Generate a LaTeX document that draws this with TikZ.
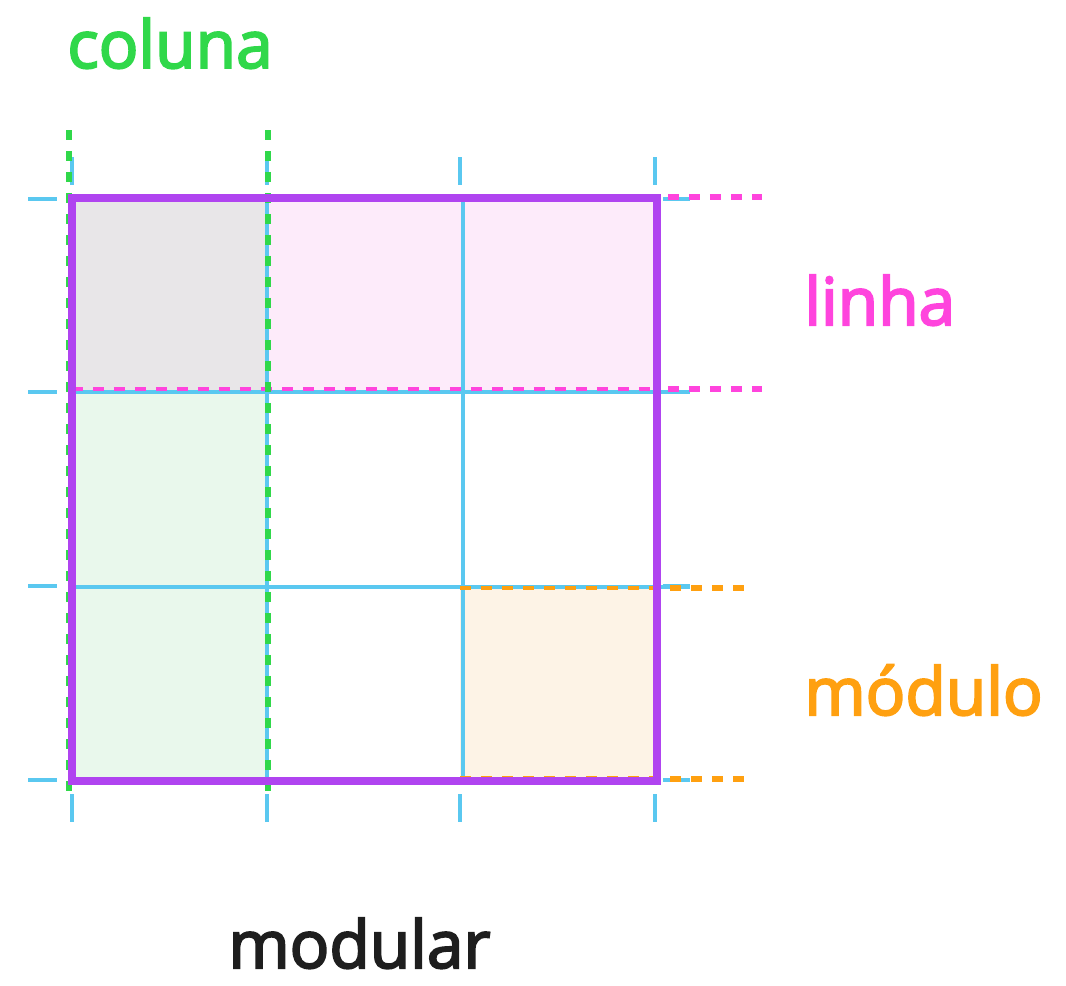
\documentclass[tikz,border=0pt]{standalone}
\usepackage{fontspec}
\newfontfamily\labelfont{Open Sans}[FakeBold=3]
\usepackage{xcolor}
\definecolor{GridBlue}{RGB}{90,200,240}
\definecolor{FrameViolet}{RGB}{176,68,240}
\definecolor{ColGreen}{RGB}{48,216,74}
\definecolor{RowPink}{RGB}{255,68,221}
\definecolor{ModOrange}{RGB}{255,160,16}
\definecolor{TitleDark}{RGB}{30,30,30}
\definecolor{CellGray}{RGB}{232,230,232}
\definecolor{CellPink}{RGB}{253,235,250}
\definecolor{CellGreen}{RGB}{233,248,236}
\definecolor{CellOrange}{RGB}{253,243,230}
\usetikzlibrary{positioning,calc,backgrounds}
\tikzset{
  % Thin grid line and tick
  gridline/.style={draw=GridBlue, line width=2pt},
  % Outer frame
  gridframe/.style={draw=FrameViolet, line width=4.2pt},
  % Dashed guides
  colguide/.style={draw=ColGreen, line width=3.2pt, dash pattern=on 0.2cm off 0.22cm},
  rowguide/.style={draw=RowPink, line width=3.4pt, dash pattern=on 0.22cm off 0.2cm},
  rowguidein/.style={draw=RowPink, line width=1.8pt, dash pattern=on 0.22cm off 0.2cm},
  modguide/.style={draw=ModOrange, line width=3.4pt, dash pattern=on 0.22cm off 0.2cm},
  modguidein/.style={draw=ModOrange, line width=1.8pt, dash pattern=on 0.22cm off 0.2cm},
  % Labels
  tag/.style={font=\labelfont\fontsize{37.5}{40}\selectfont, inner sep=0pt, anchor=base west}
}
\begin{document}
\begin{tikzpicture}[x=0.02cm, y=-0.02cm]
  \useasboundingbox (0,0) rectangle (1066,985);

  % cell corners
  \coordinate (tl) at (72,198);
  \coordinate (br) at (657,781);

  % cell fills
  \fill[CellGray]   (72,198)  rectangle (267,390);
  \fill[CellPink]   (267,198) rectangle (657,390);
  \fill[CellGreen]  (72,390)  rectangle (267,781);
  \fill[CellOrange] (460,588) rectangle (657,781);

  % grid lines
  \draw[gridline] (267,199) -- (267,781);
  \draw[gridline] (463,199) -- (463,781);
  \draw[gridline] (72,392) -- (690,392);
  \draw[gridline] (72,587) -- (690,587);

  % ticks
  \foreach \x in {72,267,460,655} {
    \draw[gridline] (\x,157) -- (\x,185);
    \draw[gridline] (\x,794) -- (\x,822);
  }
  \foreach \y in {199,392,586,780} {
    \draw[gridline] (28,\y) -- (57,\y);
    \draw[gridline] (663,\y) -- (690,\y);
  }

  % row and module guides
  \draw[rowguidein] (72,198) -- (657,198);
  \draw[rowguidein] (72,389) -- (657,389);
  \draw[rowguide] (668,197) -- (762,197);
  \draw[rowguide] (668,389) -- (762,389);
  \draw[modguidein] (460,588) -- (657,588);
  \draw[modguidein] (460,778) -- (657,778);
  \draw[modguide] (670,588) -- (750,588);
  \draw[modguide] (670,779) -- (750,779);

  % column guides
  \draw[colguide] (69,130) -- (69,795);
  \draw[colguide] (268,130) -- (268,795);

  % frame
  \draw[gridframe] (tl) rectangle (br);

  % labels
  \node[tag, text=ColGreen]   (coluna)  at (67,68)   {coluna};
  \node[tag, text=RowPink]    (linha)   at (804,325) {linha};
  \node[tag, text=ModOrange]  (modulo)  at (804,715) {módulo};
  \node[tag, text=TitleDark]  (modular) at (228,968) {modular};
\end{tikzpicture}
\end{document}
